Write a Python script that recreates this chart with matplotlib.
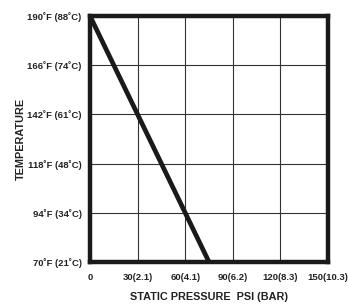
import matplotlib
matplotlib.use("Agg")
import matplotlib.pyplot as plt

# pressure (psi) vs temperature (F) rating line
psi_vals = [0, 75]
temp_vals = [190, 70]

x_ticks = [0, 30, 60, 90, 120, 150]
x_labels = ['0', '30(2.1)', '60(4.1)', '90(6.2)', '120(8.3)', '150(10.3)']
y_ticks = [70, 94, 118, 142, 166, 190]
y_labels = ['70˚F (21˚C)', '94˚F (34˚C)', '118˚F (48˚C)',
            '142˚F (61˚C)', '166˚F (74˚C)', '190˚F (88˚C)']

plt.rcParams['font.family'] = ['Liberation Sans', 'DejaVu Sans']
plt.rcParams['font.weight'] = 'bold'

fig = plt.figure(figsize=(3.48, 3.05), dpi=100)
ax = fig.add_axes([90/348, 1 - 262/305, 238/348, 246/305])

ax.plot(psi_vals, temp_vals, color='#1a1a1a', lw=3.4, solid_capstyle='butt')

ax.set_xlim(0, 150)
ax.set_ylim(70, 190)
ax.set_xticks(x_ticks)
ax.set_xticklabels(x_labels, fontsize=6.8, fontweight='bold', color='#222222')
ax.set_yticks(y_ticks)
ax.set_yticklabels(y_labels, fontsize=6.8, fontweight='bold', color='#222222')
ax.tick_params(length=0, pad=6)
ax.tick_params(axis='x', pad=8)
ax.grid(True, color='#333333', lw=0.8)
for s in ax.spines.values():
    s.set_linewidth(3.2)
    s.set_color('#1a1a1a')

ax.set_xlabel('STATIC PRESSURE  PSI (BAR)', fontsize=7.8, fontweight='bold',
              color='#222222', labelpad=7)
ax.set_ylabel('TEMPERATURE', fontsize=7.8, fontweight='bold', color='#222222', labelpad=1)

fig.savefig('out.png', dpi=100)
